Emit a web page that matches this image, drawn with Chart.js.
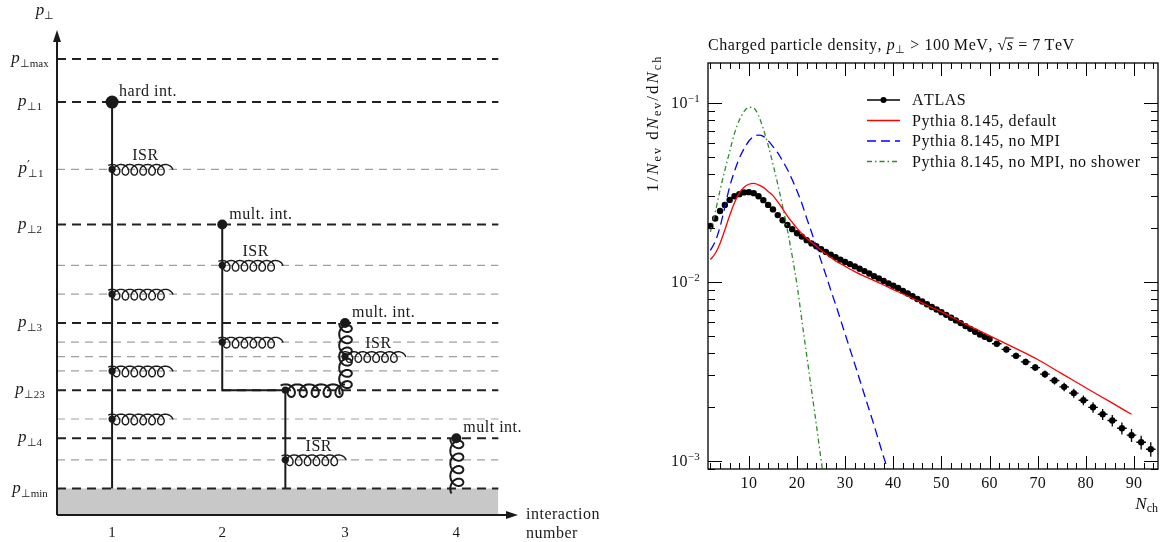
<!DOCTYPE html>
<html>
<head>
<meta charset="utf-8">
<script src="https://cdn.jsdelivr.net/npm/chart.js@4.4.1/dist/chart.umd.min.js"></script>
<style>
  html, body { margin: 0; padding: 0; background: #fff; }
  #wrap { position: relative; width: 1162px; height: 542px; overflow: hidden; }
  #evolution { position: absolute; left: 0; top: 0; }
  #multiplicity { position: absolute; left: 640px; top: 0; }
</style>
</head>
<body>
<div id="wrap">
  <canvas id="evolution" width="640" height="542"></canvas>
  <canvas id="multiplicity" width="522" height="542"></canvas>
</div>
<script>
// ---------- evolution diagram (p_perp ordering, arbitrary units) ----------
var mainScales = [9.5, 8.6, 6.05, 4.0, 2.6, 1.6, 0.55];
var mainSubs = ['max', '1', '2', '3', '23', '4', 'min'];
var isrScales = [7.2, 5.2, 4.6, 3.6, 3.3, 3.0, 2.0, 1.15];
var interactionX = [1, 1.96, 3.03, 4];
var interactionTicks = ['1', '2', '3', '4'];
var interactionScale = [8.6, 6.05, 4.0, 1.6];
var interactionText = ['hard int.', 'mult. int.', 'mult. int.', 'mult int.'];
var rescatterX = 2.51;
var isrX = [1, 1, 1, 1, 1.96, 1.96, 2.51, 3.03];
var isrY = [7.2, 4.6, 3.0, 2.0, 5.2, 3.6, 1.15, 3.3];
var isrLabelled = [true, false, false, false, true, false, true, true];
var isrLength = 0.53;

// ---------- charged multiplicity, pT > 100 MeV, sqrt(s) = 7 TeV ----------
var atlasN = [2, 3, 4, 5, 6, 7, 8, 9, 10, 11, 12, 13, 14, 15, 16, 17, 18, 19, 20,
  21, 22, 23, 24, 25, 26, 27, 28, 29, 30, 31, 32, 33, 34, 35, 36, 37, 38, 39, 40,
  41, 42, 43, 44, 45, 46, 47, 48, 49, 50, 51, 52, 53, 54, 55, 56, 57, 58, 59, 60,
  61.5, 63.5, 65.5, 67.5, 69.5, 71.5, 73.5, 75.5, 77.5, 79.5, 81.5, 83.5, 85.5, 87.5, 89.5, 91.5, 93.5];
var atlasDensity = [0.0205, 0.0226, 0.0249, 0.0269, 0.0287, 0.0301, 0.0309, 0.0316, 0.0317, 0.0313,
  0.0301, 0.0286, 0.0269, 0.0254, 0.0236, 0.0221, 0.0208, 0.0197, 0.0187,
  0.0179, 0.0171, 0.0164, 0.0158, 0.0152, 0.0147, 0.0142, 0.01375, 0.0133, 0.0129,
  0.01256, 0.0122, 0.01183, 0.01148, 0.01114, 0.01076, 0.01045, 0.0101, 0.0098, 0.0095,
  0.00923, 0.0089, 0.0086, 0.0083, 0.00802, 0.00777, 0.0075, 0.00724, 0.00701, 0.00677,
  0.00654, 0.0063, 0.00609, 0.00588, 0.00566, 0.00546, 0.00526, 0.00508, 0.00493, 0.00479,
  0.00451, 0.00419, 0.00386, 0.00357, 0.00332, 0.00305, 0.00281, 0.00259, 0.00239,
  0.00218, 0.00199, 0.00182, 0.00168, 0.00152, 0.00139, 0.00127, 0.00116];
var atlasRelErr = [0.02, 0.02, 0.02, 0.02, 0.02, 0.02, 0.02, 0.02, 0.02, 0.02,
  0.02, 0.02, 0.02, 0.02, 0.02, 0.02, 0.02, 0.02, 0.02,
  0.021, 0.021, 0.021, 0.021, 0.021, 0.021, 0.021, 0.021, 0.021, 0.021,
  0.022, 0.022, 0.022, 0.022, 0.022, 0.022, 0.022, 0.022, 0.022, 0.022,
  0.024, 0.024, 0.024, 0.024, 0.024, 0.025, 0.025, 0.025, 0.025, 0.025,
  0.027, 0.027, 0.027, 0.028, 0.028, 0.028, 0.029, 0.029, 0.03, 0.03,
  0.035, 0.038, 0.04, 0.042, 0.045, 0.048, 0.051, 0.055, 0.058,
  0.062, 0.066, 0.07, 0.074, 0.078, 0.083, 0.088, 0.093];

var defaultN = [2, 3, 4, 5, 6, 7, 8, 9, 10, 11, 12, 13, 14, 15, 16, 17, 18, 19, 20,
  22, 24, 26, 28, 30, 32, 35, 38, 41, 44, 47, 50, 55, 60, 65, 70, 75, 80, 85, 89.5];
var defaultDensity = [0.0133, 0.0144, 0.0164, 0.0195, 0.0235, 0.0277, 0.0314, 0.0338, 0.0351, 0.0355,
  0.0348, 0.0337, 0.032, 0.0303, 0.028, 0.0256, 0.0233, 0.0215, 0.0199,
  0.0175, 0.0158, 0.0143, 0.0131, 0.0122, 0.0114, 0.01045, 0.0096, 0.0088, 0.0081, 0.0074,
  0.0068, 0.0058, 0.005, 0.0043, 0.00368, 0.00307, 0.00256, 0.00214, 0.00182];

var noMpiN = [2, 3, 4, 5, 6, 7, 8, 9, 10, 11, 12, 13, 14, 15, 16, 17, 18, 19, 20,
  21, 22, 23, 24, 25, 26, 27, 28, 30, 32, 34, 36, 38, 39];
var noMpiDensity = [0.015, 0.0168, 0.0203, 0.0262, 0.034, 0.0415, 0.049, 0.0555, 0.0612, 0.0648,
  0.066, 0.065, 0.0615, 0.057, 0.0525, 0.0474, 0.0424, 0.0372, 0.0322,
  0.0274, 0.0227, 0.019, 0.0158, 0.0131, 0.0109, 0.009, 0.0075, 0.0051, 0.00347,
  0.00234, 0.00158, 0.00105, 0.00087];

var noShowerN = [2, 3, 4, 5, 6, 7, 8, 9, 10, 11, 12, 13, 14, 15, 16, 17, 18, 19, 20,
  21, 22, 23, 24, 25, 26];
var noShowerDensity = [0.019, 0.0245, 0.0325, 0.042, 0.0535, 0.0675, 0.08, 0.0895, 0.0945, 0.0935,
  0.085, 0.0715, 0.058, 0.0455, 0.035, 0.0265, 0.0195, 0.0139, 0.0096,
  0.0061, 0.0039, 0.0025, 0.0016, 0.00101, 0.00064];

var nchTicks = [10, 20, 30, 40, 50, 60, 70, 80, 90];
var densityTicks = [0.001, 0.01, 0.1];
var legendLabels = ['ATLAS', 'Pythia 8.145, default', 'Pythia 8.145, no MPI', 'Pythia 8.145, no MPI, no shower'];

var SERIF = '"Liberation Serif", "Times New Roman", serif';
var INK = '#1a1a1a';

// text made of pieces {t, s, it, dy, back, bar}, drawn glyph by glyph so that
// a letter spacing can be added
function pieceFont(p) {
    return (p.it ? 'italic ' : '') + p.s + 'px ' + (p.face || SERIF);
}
function mathText(ctx, parts, x, y, align, ls) {
    ls = ls || 0;
    var widths = parts.map(function (p) {
        ctx.font = pieceFont(p);
        var w = 0;
        for (var k = 0; k < p.t.length; k++) w += ctx.measureText(p.t[k]).width + ls;
        return w + (p.back || 0);
    });
    var total = widths.reduce(function (a, b) { return a + b; }, 0);
    var cx = align === 'center' ? x - total / 2 : (align === 'right' ? x - total : x);
    ctx.textAlign = 'left';
    ctx.textBaseline = 'alphabetic';
    parts.forEach(function (p, i) {
        ctx.font = pieceFont(p);
        var gx = cx;
        for (var k = 0; k < p.t.length; k++) {
            ctx.fillText(p.t[k], gx, y + (p.dy || 0));
            gx += ctx.measureText(p.t[k]).width + ls;
        }
        if (p.bar) ctx.fillRect(cx - 1, y + (p.dy || 0) - p.s * 0.78, gx - cx + 1, 1);
        cx += widths[i];
    });
    return total;
}

function gluon(ctx, p0, p1, loops, across, along, offset, tail) {
    var dx = p1.x - p0.x, dy = p1.y - p0.y, len = Math.hypot(dx, dy);
    var ux = dx / len, uy = dy / len, nx = -uy, ny = ux;
    var phiStart = -0.6;
    var phiEnd = 2 * Math.PI * loops + (tail ? Math.PI / 2 : 0);
    var pitch = (len - (tail ? along : 0)) / phiEnd;
    var steps = loops * 60;
    ctx.beginPath();
    for (var i = 0; i <= steps; i++) {
        var phi = phiStart + (phiEnd - phiStart) * i / steps;
        var s = pitch * phi + along * Math.sin(phi);
        var t = offset - across * Math.cos(phi);
        var X = p0.x + ux * s + nx * t, Y = p0.y + uy * s + ny * t;
        if (i === 0) ctx.moveTo(X, Y); else ctx.lineTo(X, Y);
    }
    ctx.stroke();
}

// ---------- left chart ----------
var axisStart = 0.52, axisEnd = 4.52, levelEnd = 4.366;
var floorScale = mainScales[mainScales.length - 1];

function levelLine(s) {
    return [{ x: axisStart, y: s }, { x: levelEnd, y: s }];
}

var evoDatasets = [];
evoDatasets.push({
    data: levelLine(floorScale), fill: 'start', backgroundColor: '#c8c8c8',
    borderWidth: 0, pointRadius: 0, order: 20
});
isrScales.forEach(function (s) {
    evoDatasets.push({ data: levelLine(s), borderColor: '#a0a0a0', borderWidth: 1.2, borderDash: [8, 6], pointRadius: 0, order: 15 });
});
mainScales.forEach(function (s) {
    evoDatasets.push({ data: levelLine(s), borderColor: '#222', borderWidth: 2, borderDash: [9, 6], pointRadius: 0, order: 14 });
});
// first interaction, straight down to the cut-off
evoDatasets.push({
    data: [{ x: interactionX[0], y: interactionScale[0] }, { x: interactionX[0], y: floorScale }],
    borderColor: INK, borderWidth: 2, pointRadius: 0, order: 10
});
// second interaction, joined by a rescattering branch at p_perp23
evoDatasets.push({
    data: [{ x: interactionX[1], y: interactionScale[1] }, { x: interactionX[1], y: mainScales[4] },
           { x: rescatterX, y: mainScales[4] }, { x: rescatterX, y: floorScale }],
    borderColor: INK, borderWidth: 2, pointRadius: 0, order: 10
});
var dotPoints = [], dotRadius = [];
interactionX.forEach(function (x, i) {
    dotPoints.push({ x: x, y: interactionScale[i] });
    dotRadius.push(i === 0 ? 6.5 : 5);
});
isrX.forEach(function (x, i) {
    dotPoints.push({ x: x, y: isrY[i] });
    dotRadius.push(3.6);
});
dotPoints.push({ x: rescatterX, y: mainScales[4] });
dotRadius.push(3.6);
var dotIndex = evoDatasets.length;
evoDatasets.push({
    data: dotPoints, showLine: false, pointRadius: dotRadius, pointBackgroundColor: INK,
    pointBorderColor: INK, pointBorderWidth: 0, order: 1
});

function pPerp(sub, size) {
    return [{ t: 'p', s: size, it: true }, { t: '\u22A5', s: 11, dy: 4 }, { t: sub, s: 11, dy: 4 }];
}

var evolutionDecor = {
    id: 'evolutionDecor',
    beforeDatasetDraw: function (chart, args) {
        if (args.index !== dotIndex) return;
        var ctx = chart.ctx, xs = chart.scales.x, ys = chart.scales.y;
        var P = function (x, y) { return { x: xs.getPixelForValue(x), y: ys.getPixelForValue(y) }; };
        ctx.save();
        ctx.strokeStyle = INK;
        ctx.lineWidth = 1.4;
        ctx.lineJoin = 'round';
        isrX.forEach(function (x, i) {
            gluon(ctx, P(x, isrY[i]), P(x + isrLength, isrY[i]), 6, 5.3, 5.3, 0.5, true);
        });
        ctx.lineWidth = 2;
        gluon(ctx, P(rescatterX, mainScales[4]), P(interactionX[2], mainScales[4]), 5, 6.3, 6.3, 0.5, false);
        gluon(ctx, P(interactionX[2], mainScales[4]), P(interactionX[2], interactionScale[2]), 6, 6.3, 6, 0.5, false);
        gluon(ctx, P(interactionX[3], floorScale), P(interactionX[3], interactionScale[3]), 4, 6.5, 6.5, 0.5, false);
        ctx.restore();
    },
    afterDraw: function (chart) {
        var ctx = chart.ctx, xs = chart.scales.x, ys = chart.scales.y, area = chart.chartArea;
        ctx.save();
        ctx.strokeStyle = INK;
        ctx.fillStyle = INK;
        ctx.lineWidth = 2;
        // axes with arrow heads
        var x0 = xs.getPixelForValue(axisStart), yb = ys.getPixelForValue(0);
        ctx.beginPath();
        ctx.moveTo(x0, yb); ctx.lineTo(x0, area.top + 8);
        ctx.moveTo(x0, yb); ctx.lineTo(xs.getPixelForValue(axisEnd) - 8, yb);
        ctx.stroke();
        ctx.beginPath();
        ctx.moveTo(x0, area.top - 2); ctx.lineTo(x0 - 4, area.top + 10); ctx.lineTo(x0 + 4, area.top + 10); ctx.closePath();
        var xe = xs.getPixelForValue(axisEnd);
        ctx.moveTo(xe + 2, yb); ctx.lineTo(xe - 10, yb - 4); ctx.lineTo(xe - 10, yb + 4); ctx.closePath();
        ctx.fill();

        // p_perp labels
        mathText(ctx, pPerp('', 17), x0 - 12, 15, 'center');
        mainScales.forEach(function (s, i) {
            mathText(ctx, pPerp(mainSubs[i], 17), 30, ys.getPixelForValue(s) + 4, 'center');
        });
        mathText(ctx, [{ t: 'p', s: 17, it: true }, { t: '\u2032', s: 13, dy: -4, back: -2, face: '"DejaVu Sans", sans-serif' },
            { t: '\u22A5', s: 11, dy: 4 }, { t: '1', s: 11, dy: 4 }],
            31, ys.getPixelForValue(isrScales[0]) + 4, 'center');

        // interaction numbers
        interactionX.forEach(function (x, i) {
            mathText(ctx, [{ t: interactionTicks[i], s: 15 }], xs.getPixelForValue(x), 537, 'center');
        });
        mathText(ctx, [{ t: 'interaction', s: 16 }], xe + 10, 519, 'left', 0.5);
        mathText(ctx, [{ t: 'number', s: 16 }], xe + 10, 538, 'left', 0.5);

        // annotations
        interactionX.forEach(function (x, i) {
            var p = { x: xs.getPixelForValue(x), y: ys.getPixelForValue(interactionScale[i]) };
            mathText(ctx, [{ t: interactionText[i], s: 16 }], p.x + 7, p.y - 6, 'left', 0.5);
        });
        isrX.forEach(function (x, i) {
            if (!isrLabelled[i]) return;
            var cx = (xs.getPixelForValue(x) + xs.getPixelForValue(x + isrLength)) / 2 + 3;
            mathText(ctx, [{ t: 'ISR', s: 16 }], cx, ys.getPixelForValue(isrY[i]) - 9, 'center', 0.5);
        });
        ctx.restore();
    }
};

new Chart(document.getElementById('evolution'), {
    type: 'line',
    data: { datasets: evoDatasets },
    options: {
        responsive: false,
        animation: false,
        events: [],
        clip: false,
        layout: { padding: { left: 57, right: 124, top: 32, bottom: 27 } },
        scales: {
            x: { type: 'linear', min: axisStart, max: axisEnd, display: false },
            y: { type: 'linear', min: 0, max: 10.06, display: false }
        },
        plugins: { legend: { display: false }, tooltip: { enabled: false } }
    },
    plugins: [evolutionDecor]
});

// ---------- right chart ----------
function pairs(xs, ys) {
    return xs.map(function (x, i) { return { x: x, y: ys[i] }; });
}

var lineStyles = [
    { color: '#000', dash: [] },
    { color: '#ff0000', dash: [] },
    { color: '#0000ff', dash: [9, 5] },
    { color: '#2e8b2e', dash: [5, 3, 1.5, 3] }
];

var multiplicityDecor = {
    id: 'multiplicityDecor',
    beforeDatasetsDraw: function (chart) {
        var ctx = chart.ctx, xs = chart.scales.x, ys = chart.scales.y;
        ctx.save();
        ctx.strokeStyle = '#000';
        ctx.lineWidth = 1.3;
        ctx.beginPath();
        atlasN.forEach(function (n, i) {
            var v = atlasDensity[i], e = v * atlasRelErr[i];
            var hw = n > 60 ? 1 : 0.5;
            var px = xs.getPixelForValue(n), py = ys.getPixelForValue(v);
            ctx.moveTo(px, ys.getPixelForValue(v + e));
            ctx.lineTo(px, ys.getPixelForValue(v - e));
            ctx.moveTo(xs.getPixelForValue(n - hw), py);
            ctx.lineTo(xs.getPixelForValue(n + hw), py);
        });
        ctx.stroke();
        ctx.restore();
    },
    afterDraw: function (chart) {
        var ctx = chart.ctx, xs = chart.scales.x, ys = chart.scales.y, a = chart.chartArea;
        ctx.save();
        ctx.strokeStyle = '#000';
        ctx.fillStyle = '#111';
        ctx.lineWidth = 1;
        ctx.beginPath();
        // ticks along N_ch, bottom and top
        for (var n = 2; n < xs.max; n += 2) {
            var len = nchTicks.indexOf(n) >= 0 ? 13 : 6;
            var px = Math.round(xs.getPixelForValue(n)) + 0.5;
            ctx.moveTo(px, a.bottom); ctx.lineTo(px, a.bottom - len);
            ctx.moveTo(px, a.top); ctx.lineTo(px, a.top + len);
        }
        // ticks along the density, left and right
        for (var d = -4; d <= -1; d++) {
            for (var k = 1; k <= 9; k++) {
                var v = k * Math.pow(10, d);
                if (v < ys.min || v > ys.max) continue;
                var l = k === 1 ? 14 : 7;
                var py = Math.round(ys.getPixelForValue(v)) + 0.5;
                ctx.moveTo(a.left, py); ctx.lineTo(a.left + l, py);
                ctx.moveTo(a.right, py); ctx.lineTo(a.right - l, py);
            }
        }
        ctx.stroke();
        ctx.lineWidth = 1.3;
        ctx.strokeRect(a.left, a.top, a.right - a.left, a.bottom - a.top);

        nchTicks.forEach(function (t) {
            mathText(ctx, [{ t: String(t), s: 16 }], xs.getPixelForValue(t), a.bottom + 19, 'center', 0.3);
        });
        densityTicks.forEach(function (t) {
            var py = ys.getPixelForValue(t);
            var e = Math.round(Math.log10(t));
            mathText(ctx, [{ t: '10', s: 16 }, { t: '\u2212' + Math.abs(e), s: 11, dy: -6 }], a.left - 8, py + 5, 'right', 0.3);
        });
        mathText(ctx, [{ t: 'N', s: 17, it: true }, { t: 'ch', s: 12, dy: 3 }], a.right, a.bottom + 40, 'right');

        // title
        mathText(ctx, [{ t: 'Charged particle density, ', s: 16 }, { t: 'p', s: 16, it: true },
            { t: '\u22A5', s: 11, dy: 3 }, { t: ' > 100\u2009MeV, ', s: 16 }, { t: '\u221A', s: 16 },
            { t: 's', s: 16, it: true, bar: true }, { t: ' = 7\u2009TeV', s: 16 }], a.left, 50, 'left', 0.55);

        // vertical axis title
        ctx.save();
        ctx.translate(18, 192);
        ctx.rotate(-Math.PI / 2);
        mathText(ctx, [{ t: '1/', s: 17 }, { t: 'N', s: 17, it: true }, { t: 'ev', s: 12, dy: 3 }, { t: ' d', s: 17 },
            { t: 'N', s: 17, it: true }, { t: 'ev', s: 12, dy: 3 }, { t: '/d', s: 17 }, { t: 'N', s: 17, it: true },
            { t: 'ch', s: 12, dy: 3 }], 0, 0, 'left', 2);
        ctx.restore();

        // legend
        var lx0 = 227, lx1 = 260, ly = 100;
        legendLabels.forEach(function (label, i) {
            var y = ly + i * 20.5;
            ctx.strokeStyle = lineStyles[i].color;
            ctx.lineWidth = i === 0 ? 1.6 : 1.3;
            ctx.setLineDash(lineStyles[i].dash);
            ctx.beginPath(); ctx.moveTo(lx0, y); ctx.lineTo(lx1, y); ctx.stroke();
            ctx.setLineDash([]);
            if (i === 0) {
                ctx.beginPath(); ctx.arc((lx0 + lx1) / 2, y, 3, 0, Math.PI * 2); ctx.fillStyle = '#000'; ctx.fill();
            }
            ctx.fillStyle = '#111';
            mathText(ctx, [{ t: label, s: 16 }], lx1 + 12, y + 5, 'left', 0.55);
        });
        ctx.restore();
    }
};

new Chart(document.getElementById('multiplicity'), {
    type: 'line',
    data: {
        datasets: [
            { label: legendLabels[1], data: pairs(defaultN, defaultDensity), borderColor: lineStyles[1].color,
              borderWidth: 1.3, pointRadius: 0, cubicInterpolationMode: 'monotone', order: 1 },
            { label: legendLabels[2], data: pairs(noMpiN, noMpiDensity), borderColor: lineStyles[2].color,
              borderDash: lineStyles[2].dash, borderWidth: 1.3, pointRadius: 0, cubicInterpolationMode: 'monotone', order: 1 },
            { label: legendLabels[3], data: pairs(noShowerN, noShowerDensity), borderColor: lineStyles[3].color,
              borderDash: lineStyles[3].dash, borderWidth: 1.3, pointRadius: 0, cubicInterpolationMode: 'monotone', order: 1 },
            { label: legendLabels[0], data: pairs(atlasN, atlasDensity), showLine: false, pointRadius: 3.2,
              pointBackgroundColor: '#000', pointBorderColor: '#000', pointBorderWidth: 0, order: 2 }
        ]
    },
    options: {
        responsive: false,
        animation: false,
        events: [],
        layout: { padding: { left: 68, right: 4, top: 63, bottom: 73 } },
        scales: {
            x: { type: 'linear', min: 1.5, max: 95, display: false },
            y: { type: 'logarithmic', min: 0.0009, max: 0.167, display: false }
        },
        plugins: { legend: { display: false }, tooltip: { enabled: false } }
    },
    plugins: [multiplicityDecor]
});
</script>
</body>
</html>
